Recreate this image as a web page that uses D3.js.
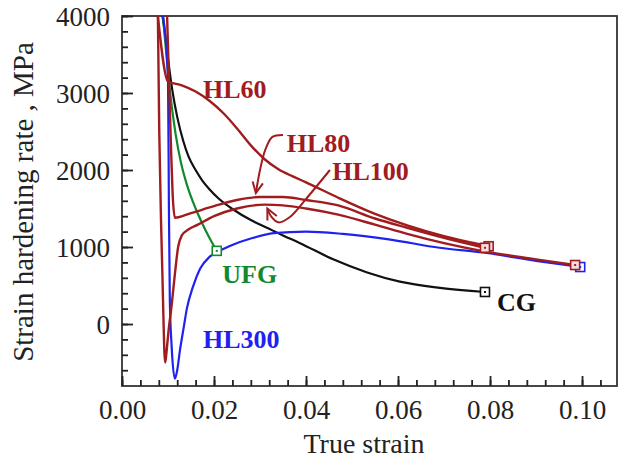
<!DOCTYPE html>
<html><head><meta charset="utf-8">
<script src="https://cdn.jsdelivr.net/npm/d3@7"></script>
<style>html,body{margin:0;padding:0;background:#fff;}svg{display:block;}</style>
</head><body>
<svg id="chart" width="619" height="461"></svg>
<script>
// ---------- data (true strain, strain hardening rate MPa) ----------
const cgStrain  = [0.0088,0.0095,0.0100,0.0109,0.0120,0.0133,0.0145,0.0160,0.0175,0.0190,0.0210,0.0241,0.0280,0.0315,0.0350,0.0387,0.0459,0.0533,0.0604,0.0691,0.0789];
const cgRate    = [4000,3700,3450,3050,2690,2380,2170,2000,1860,1750,1630,1490,1350,1250,1150,1050,840,670,550,470,416];

const ufgStrain = [0.0089,0.0104,0.0117,0.0128,0.0141,0.0160,0.0175,0.0190,0.0206];
const ufgRate   = [4000,3040,2450,2100,1810,1500,1300,1120,950];

const hl300Strain = [0.0089,0.0100,0.0102,0.0104,0.0108,0.0115,0.0120,0.0126,0.0134,0.0141,0.0154,0.0170,0.0190,0.0215,0.0241,0.0280,0.0330,0.0400,0.0480,0.0580,0.0690,0.0793,0.0900,0.0996];
const hl300Rate   = [4000,3200,1500,300,-300,-710,-600,-340,-50,200,480,720,870,960,1030,1110,1180,1200,1170,1100,990,922,820,740];

const hl60Strain = [0.0078,0.0100,0.0130,0.0160,0.0190,0.0220,0.0250,0.0280,0.0310,0.0340,0.0370,0.0400,0.0470,0.0550,0.0620,0.0700,0.0797];
const hl60Rate   = [4000,3150,3100,3020,2900,2740,2540,2320,2140,2010,1920,1840,1640,1430,1280,1140,1010];

const hl80Strain = [0.0098,0.0103,0.0107,0.0110,0.0115,0.0150,0.0200,0.0250,0.0300,0.0350,0.0400,0.0470,0.0550,0.0620,0.0700,0.0789];
const hl80Rate   = [4000,3000,2200,1700,1380,1440,1530,1610,1650,1650,1610,1540,1370,1250,1120,990];

const hl100Strain = [0.0078,0.0081,0.0085,0.0088,0.0090,0.0092,0.0094,0.0097,0.0101,0.0108,0.0115,0.0122,0.0130,0.0145,0.0165,0.0200,0.0250,0.0310,0.0350,0.0400,0.0470,0.0550,0.0620,0.0700,0.0790,0.0900,0.0985];
const hl100Rate   = [4000,2500,1300,600,100,-350,-500,-350,-100,250,650,1000,1150,1230,1290,1400,1500,1550,1540,1500,1420,1290,1170,1050,940,840,766];

const xMajorTicks = [0,0.02,0.04,0.06,0.08,0.10];
const yMajorTicks = [0,1000,2000,3000,4000];

const RED="#a01c1f", BLUE="#1e22f0", GREEN="#12892c", BLACK="#111";

const seriesList = [
  {name:"CG",    xs:cgStrain,    ys:cgRate,    color:BLACK},
  {name:"UFG",   xs:ufgStrain,   ys:ufgRate,   color:GREEN},
  {name:"HL300", xs:hl300Strain, ys:hl300Rate, color:BLUE},
  {name:"HL60",  xs:hl60Strain,  ys:hl60Rate,  color:RED},
  {name:"HL80",  xs:hl80Strain,  ys:hl80Rate,  color:RED},
  {name:"HL100", xs:hl100Strain, ys:hl100Rate, color:RED}
];

// ---------- layout ----------
const L=122, R=617, T=16, B=386;
const x = d3.scaleLinear().domain([0,0.1076]).range([L,R]);
const y = d3.scaleLinear().domain([-805,4000]).range([B,T]);

const svg = d3.select("#chart");
const font = "'Liberation Serif','Times New Roman',serif";

svg.append("defs").append("clipPath").attr("id","clip")
  .append("rect").attr("x",L).attr("y",T).attr("width",R-L).attr("height",B-T);

// frame
svg.append("rect").attr("x",L).attr("y",T).attr("width",R-L).attr("height",B-T)
  .attr("fill","none").attr("stroke","#333").attr("stroke-width",1.8);

// minor + major ticks (inward)
const gx = svg.append("g").attr("transform",`translate(0,${B})`);
gx.call(d3.axisBottom(x).tickValues(d3.range(0,0.1076,0.004)).tickSize(-6).tickFormat(""));
const gx2 = svg.append("g").attr("transform",`translate(0,${B})`);
gx2.call(d3.axisBottom(x).tickValues(xMajorTicks).tickSize(-10).tickPadding(14).tickFormat(d3.format(".2f")));
const gy = svg.append("g").attr("transform",`translate(${L},0)`);
gy.call(d3.axisLeft(y).tickValues(d3.range(-600,4001,200)).tickSize(-6).tickFormat(""));
const gy2 = svg.append("g").attr("transform",`translate(${L},0)`);
gy2.call(d3.axisLeft(y).tickValues(yMajorTicks).tickSize(-11).tickPadding(12).tickFormat(d3.format("d")));

[gx,gx2,gy,gy2].forEach(g=>{
  g.select(".domain").remove();
  g.selectAll(".tick line").attr("stroke","#222").attr("stroke-width",1.8);
  g.selectAll(".tick text").attr("fill","#222").style("font-family",font).style("font-size","27px");
});
gy2.selectAll(".tick text").attr("dy","0.35em");

// curves
const line = d3.line().x(d=>x(d[0])).y(d=>y(d[1])).curve(d3.curveMonotoneX);
const plot = svg.append("g").attr("clip-path","url(#clip)");
seriesList.forEach(s=>{
  const pts = s.xs.map((v,i)=>[v,s.ys[i]]);
  plot.append("path").datum(pts).attr("d",line)
    .attr("fill","none").attr("stroke",s.color).attr("stroke-width",s.color===RED?2.4:2.2);
});
// end markers
seriesList.forEach(s=>{
  const n=s.xs.length-1, cx=x(s.xs[n]), cy=y(s.ys[n]);
  svg.append("rect").attr("x",cx-4.5).attr("y",cy-4.5).attr("width",9).attr("height",9)
    .attr("fill", s.color===RED ? "#f6dede" : "#fff").attr("stroke",s.color).attr("stroke-width",1.6);
  svg.append("rect").attr("x",cx-1).attr("y",cy-1).attr("width",2).attr("height",2).attr("fill",s.color);
});

// arrows (data coordinates)
const arrowHL80  = [[0.0350,2455],[0.0327,2430],[0.0312,2270],[0.0300,2000],[0.0291,1700]];
const arrowHL100 = [[0.0452,2000],[0.0398,1610],[0.0365,1390],[0.0340,1320],[0.0325,1390],[0.0316,1500]];
const aline = d3.line().x(d=>x(d[0])).y(d=>y(d[1])).curve(d3.curveCatmullRom);
function arrow(pts){
  svg.append("path").datum(pts).attr("d",aline).attr("fill","none").attr("stroke",RED).attr("stroke-width",2);
  const p1=pts[pts.length-2], p2=pts[pts.length-1];
  const ax=x(p2[0]), ay=y(p2[1]);
  const ang=Math.atan2(ay-y(p1[1]), ax-x(p1[0]));
  const len=12, spread=0.45;
  const b1=[ax-len*Math.cos(ang-spread), ay-len*Math.sin(ang-spread)];
  const b2=[ax-len*Math.cos(ang+spread), ay-len*Math.sin(ang+spread)];
  svg.append("path").attr("d",`M${b1[0]},${b1[1]}L${ax},${ay}L${b2[0]},${b2[1]}`)
    .attr("fill","none").attr("stroke",RED).attr("stroke-width",2);
}
arrow(arrowHL80); arrow(arrowHL100);

// series labels
const labels = [
  {t:"HL60", x:0.0176, y:2930, c:RED},
  {t:"HL80", x:0.0358, y:2230, c:RED},
  {t:"HL100",x:0.0457, y:1870, c:RED},
  {t:"UFG",  x:0.0218, y:530,  c:GREEN},
  {t:"HL300",x:0.0176, y:-310, c:BLUE},
  {t:"CG",   x:0.0815, y:170,  c:BLACK}
];
labels.forEach(l=>{
  svg.append("text").attr("x",x(l.x)).attr("y",y(l.y)).text(l.t)
    .attr("fill",l.c).style("font-family",font).style("font-size","26px").style("font-weight","bold");
});

// axis titles
svg.append("text").attr("x",364).attr("y",453).attr("text-anchor","middle").text("True strain")
  .attr("fill","#222").style("font-family",font).style("font-size","28px");
svg.append("text").attr("transform","translate(33,202) rotate(-90)").attr("text-anchor","middle")
  .text("Strain hardening rate , MPa").attr("fill","#222").style("font-family",font).style("font-size","29px");
</script>
</body></html>
